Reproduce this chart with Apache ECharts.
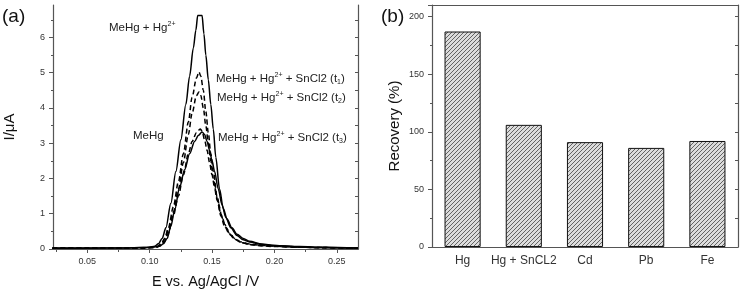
<!DOCTYPE html>
<html>
<head>
<meta charset="utf-8">
<script src="https://cdn.jsdelivr.net/npm/echarts@6/dist/echarts.min.js"></script>
<style>
  html, body { margin: 0; padding: 0; background: #fff; }
  #chart { width: 741px; height: 294px; }
</style>
</head>
<body>
<div id="chart"></div>
<script>
// ---- panel (a): voltammograms ----
var eMix = [0.022,0.05,0.08,0.095,0.100,0.104,0.107,0.110,0.113,0.117,0.121,0.125,0.129,0.132,0.135,0.137,0.1385,0.142,0.1435,0.145,0.147,0.149,0.151,0.153,0.156,0.159,0.162,0.166,0.170,0.175,0.180,0.19,0.20,0.22,0.24,0.267]
var iMix = [0.02,0.02,0.03,0.04,0.05,0.08,0.15,0.30,0.6,1.3,2.2,3.1,4.1,4.9,5.7,6.2,6.62,6.62,6.1,5.5,4.8,4.1,3.4,2.6,1.7,1.15,0.85,0.6,0.42,0.3,0.22,0.14,0.10,0.06,0.04,0.03]

var eT = [0.022,0.05,0.08,0.095,0.102,0.106,0.109,0.112,0.115,0.119,0.123,0.127,0.131,0.134,0.1375,0.1395,0.141,0.143,0.145,0.147,0.149,0.151,0.154,0.157,0.160,0.164,0.168,0.173,0.18,0.19,0.2,0.22,0.24,0.267]
var iT1 = [0.02,0.02,0.02,0.03,0.04,0.07,0.14,0.3,0.6,1.2,1.9,2.7,3.6,4.3,4.85,5.02,4.9,4.5,3.9,3.3,2.7,2.2,1.5,1.0,0.7,0.45,0.3,0.2,0.14,0.1,0.08,0.05,0.04,0.02]
var iT2 = [0.02,0.02,0.02,0.03,0.04,0.06,0.12,0.26,0.52,1.05,1.7,2.45,3.25,3.85,4.35,4.45,4.35,4.0,3.5,3.0,2.5,2.0,1.4,0.95,0.65,0.42,0.28,0.19,0.13,0.1,0.08,0.05,0.04,0.02]

var eT3 = [0.022,0.05,0.08,0.095,0.102,0.106,0.109,0.112,0.115,0.119,0.123,0.127,0.131,0.134,0.1375,0.1405,0.142,0.144,0.146,0.148,0.150,0.152,0.155,0.158,0.161,0.165,0.169,0.174,0.18,0.19,0.2,0.22,0.24,0.267]
var iT3 = [0.02,0.02,0.02,0.03,0.04,0.06,0.1,0.22,0.45,0.95,1.5,2.1,2.7,3.05,3.3,3.4,3.35,3.1,2.8,2.45,2.1,1.75,1.3,0.9,0.62,0.4,0.27,0.18,0.13,0.09,0.07,0.05,0.03,0.02]

var eMeHg = [0.022,0.05,0.08,0.095,0.100,0.104,0.108,0.111,0.114,0.117,0.120,0.124,0.128,0.132,0.136,0.139,0.142,0.144,0.146,0.148,0.150,0.152,0.155,0.158,0.161,0.165,0.170,0.175,0.18,0.19,0.2,0.22,0.24,0.267]
var iMeHg = [0.03,0.03,0.03,0.04,0.05,0.06,0.08,0.15,0.3,0.65,1.1,1.75,2.25,2.7,3.05,3.22,3.32,3.25,3.05,2.8,2.5,2.2,1.7,1.25,0.9,0.6,0.38,0.26,0.2,0.13,0.1,0.07,0.05,0.03]

var xLabelsA = [0.05, 0.10, 0.15, 0.20, 0.25]
var xMinorA = [0.025, 0.075, 0.125, 0.175, 0.225]
var yLabelsA = [0, 1, 2, 3, 4, 5, 6]
var yMinorA = [0.5, 1.5, 2.5, 3.5, 4.5, 5.5, 6.5]

// ---- panel (b): recovery bars ----
var categories = ['Hg', 'Hg + SnCL2', 'Cd', 'Pb', 'Fe']
var recovery = [187, 106, 91, 86, 92]

function zip(xs, ys) {
  return xs.map(function (x, i) { return [x, ys[i]] })
}

// hatch pattern for the bars
function hatch() {
  var c = document.createElement('canvas')
  c.width = 4; c.height = 4
  var g = c.getContext('2d')
  g.fillStyle = '#dcdcdc'
  g.fillRect(0, 0, 4, 4)
  g.strokeStyle = '#555'
  g.lineWidth = 0.9
  g.beginPath()
  g.moveTo(0, 4); g.lineTo(4, 0)
  g.moveTo(-1, 1); g.lineTo(1, -1)
  g.moveTo(3, 5); g.lineTo(5, 3)
  g.stroke()
  return c
}

var font = 'Liberation Sans, Arial, sans-serif'
var axisCol = '#555'
var labelCol = '#333'

var chart = echarts.init(document.getElementById('chart'))

function lineSeries(data, dashed) {
  return {
    type: 'line', xAxisIndex: 0, yAxisIndex: 0,
    data: data, symbol: 'none', smooth: 0.3, smoothMonotone: 'x',
    lineStyle: { color: '#000', width: 1.5, type: dashed ? [5, 3] : 'solid' },
    animation: false
  }
}

function richLabel(x, y, text) {
  return {
    type: 'text', x: x, y: y,
    style: {
      text: text, textVerticalAlign: 'middle', fill: '#222',
      rich: {
        n: { fontSize: 11.5, fontFamily: font, color: '#222', lineHeight: 14 },
        s: { fontSize: 7, fontFamily: font, color: '#222', verticalAlign: 'top', lineHeight: 14 },
        b: { fontSize: 7, fontFamily: font, color: '#222', verticalAlign: 'bottom', lineHeight: 14 }
      }
    }
  }
}

var option = {
  animation: false,
  grid: [
    { left: 53, right: 383, top: 5, bottom: 45 },
    { left: 432, right: 3, top: 5, bottom: 47 }
  ],
  xAxis: [
    // (a) main bottom axis
    { type: 'value', gridIndex: 0, min: 0.0225, max: 0.267, position: 'bottom',
      axisLine: { lineStyle: { color: axisCol, width: 1.2 } },
      axisTick: { customValues: xLabelsA, length: 4, lineStyle: { color: axisCol } },
      axisLabel: { customValues: xLabelsA, fontSize: 9, fontFamily: font, color: labelCol, margin: 8,
        formatter: function (v) { return v.toFixed(2) } },
      splitLine: { show: false },
      name: 'E vs. Ag/AgCl /V', nameLocation: 'middle', nameGap: 25,
      nameTextStyle: { fontSize: 14.5, fontFamily: font, color: '#111' } },
    // (a) minor ticks
    { type: 'value', gridIndex: 0, min: 0.0225, max: 0.267, position: 'bottom',
      axisLine: { show: false },
      axisTick: { customValues: xMinorA, length: 2, lineStyle: { color: axisCol } },
      axisLabel: { show: false }, splitLine: { show: false } },
    // (a) top border
    { type: 'value', gridIndex: 0, min: 0.0225, max: 0.267, position: 'top',
      axisLine: { lineStyle: { color: axisCol, width: 1.2 } },
      axisTick: { inside: true, customValues: xLabelsA.concat(xMinorA), length: 3, lineStyle: { color: axisCol } },
      axisLabel: { show: false }, splitLine: { show: false } },
    // (b) category axis
    { type: 'category', gridIndex: 1, data: categories, position: 'bottom',
      axisLine: { lineStyle: { color: axisCol, width: 1.2 } },
      axisTick: { length: 3, lineStyle: { color: axisCol } },
      axisLabel: { interval: 0, fontSize: 12, fontFamily: font, color: labelCol, margin: 8 } },
    { type: 'category', gridIndex: 1, data: categories, position: 'bottom',
      axisLine: { show: false },
      axisTick: { alignWithLabel: true, interval: 0, length: 4, lineStyle: { color: axisCol } },
      axisLabel: { show: false } },
    { type: 'category', gridIndex: 1, data: categories, position: 'top',
      axisLine: { lineStyle: { color: axisCol, width: 1.2 } },
      axisTick: { inside: true, interval: 0, length: 3, lineStyle: { color: axisCol } },
      axisLabel: { show: false } }
  ],
  yAxis: [
    // (a) left
    { type: 'value', gridIndex: 0, min: 0, max: 6.92, position: 'left',
      axisLine: { show: true, lineStyle: { color: axisCol, width: 1.2 } },
      axisTick: { show: true, customValues: yLabelsA, length: 4, lineStyle: { color: axisCol } },
      axisLabel: { customValues: yLabelsA, fontSize: 9, fontFamily: font, color: labelCol, margin: 8 },
      splitLine: { show: false },
      name: 'I/μA', nameLocation: 'middle', nameGap: 36, nameRotate: 90,
      nameTextStyle: { fontSize: 15, fontFamily: font, color: '#111' } },
    { type: 'value', gridIndex: 0, min: 0, max: 6.92, position: 'left',
      axisLine: { show: false },
      axisTick: { show: true, customValues: yMinorA, length: 2, lineStyle: { color: axisCol } },
      axisLabel: { show: false }, splitLine: { show: false } },
    { type: 'value', gridIndex: 0, min: 0, max: 6.92, position: 'right',
      axisLine: { show: true, lineStyle: { color: axisCol, width: 1.2 } },
      axisTick: { show: true, inside: true, customValues: yLabelsA.concat(yMinorA), length: 3, lineStyle: { color: axisCol } },
      axisLabel: { show: false }, splitLine: { show: false } },
    // (b) left
    { type: 'value', gridIndex: 1, min: 0, max: 210, interval: 50, position: 'left',
      axisLine: { show: true, lineStyle: { color: axisCol, width: 1.2 } },
      axisTick: { show: true, length: 4, lineStyle: { color: axisCol } },
      minorTick: { show: true, splitNumber: 2, length: 2, lineStyle: { color: axisCol } },
      axisLabel: { fontSize: 9, fontFamily: font, color: labelCol, margin: 8, showMaxLabel: false },
      splitLine: { show: false },
      name: 'Recovery (%)', nameLocation: 'middle', nameGap: 30, nameRotate: 90,
      nameTextStyle: { fontSize: 15, fontFamily: font, color: '#111' } },
    { type: 'value', gridIndex: 1, min: 0, max: 210, interval: 25, position: 'right',
      axisLine: { show: true, lineStyle: { color: axisCol, width: 1.2 } },
      axisTick: { show: true, inside: true, length: 3, lineStyle: { color: axisCol } },
      axisLabel: { show: false }, splitLine: { show: false } }
  ],
  series: [
    lineSeries(zip(eMix, iMix), false),
    lineSeries(zip(eT, iT1), true),
    lineSeries(zip(eT, iT2), true),
    lineSeries(zip(eT3, iT3), true),
    lineSeries(zip(eMeHg, iMeHg), false),
    {
      type: 'bar', xAxisIndex: 3, yAxisIndex: 3,
      data: recovery, barWidth: '59%',
      itemStyle: { color: { image: hatch(), repeat: 'repeat' }, borderColor: '#111', borderWidth: 1 },
      animation: false
    }
  ],
  graphic: [
    { type: 'text', x: 2, y: 17, style: { text: '(a)', font: '19px ' + font, fill: '#111', textVerticalAlign: 'middle' } },
    { type: 'text', x: 381, y: 17, style: { text: '(b)', font: '19px ' + font, fill: '#111', textVerticalAlign: 'middle' } },
    richLabel(109, 28, '{n|MeHg + Hg}{s|2+}'),
    richLabel(216, 79, '{n|MeHg + Hg}{s|2+}{n| + SnCl2 (t}{b|1}{n|)}'),
    richLabel(217, 98, '{n|MeHg + Hg}{s|2+}{n| + SnCl2 (t}{b|2}{n|)}'),
    richLabel(133, 136, '{n|MeHg}'),
    richLabel(218, 138, '{n|MeHg + Hg}{s|2+}{n| + SnCl2 (t}{b|3}{n|)}')
  ]
}

option && chart.setOption(option)
</script>
</body>
</html>
